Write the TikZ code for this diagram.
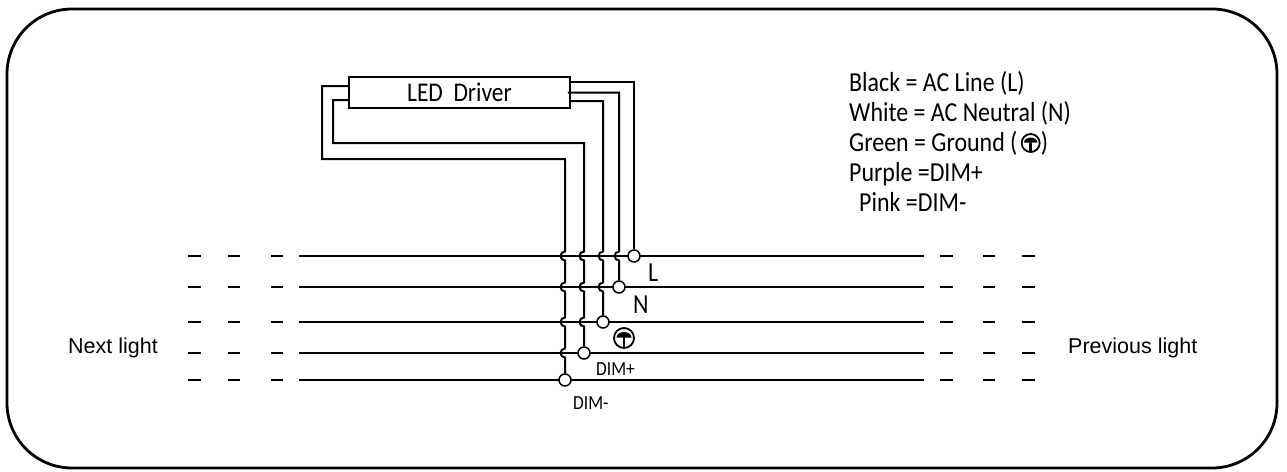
\documentclass[tikz,border=0pt]{standalone}
\usepackage{fontspec}
\setmainfont{Carlito}
\newfontfamily\arialfont{Liberation Sans}
\usepackage{graphicx}
\usetikzlibrary{positioning}

\newcommand{\narrow}[1]{\scalebox{0.87}[1]{#1}}
\newcommand{\hop}[2]{-- (#1,#2-4.5) arc[start angle=90,end angle=270,radius=4.5pt]}

\tikzset{
  gndsym/.pic={
    \draw[line width=1.8pt] (0pt,0pt) circle[radius=10pt];
    \fill (-7.5pt,0.5pt) arc[start angle=180,end angle=0,x radius=7.5pt,y radius=5.5pt] -- cycle;
    \draw[line width=2.8pt] (0pt,1pt) -- (0pt,-9.5pt);
  }
}

\begin{document}
\begin{tikzpicture}[x=1pt,y=-1pt,
    wire/.style={line width=2pt},
    term/.style={circle, draw, line width=1.5pt, fill=white, inner sep=0pt, minimum size=12pt},
    lgtext/.style={anchor=base west, inner sep=0pt, font=\fontsize{27.5}{30}\selectfont},
    tagtext/.style={anchor=base west, inner sep=0pt, font=\fontsize{20}{22}\selectfont},
    sidetext/.style={anchor=base west, inner sep=0pt, font=\arialfont\fontsize{21.5}{24}\selectfont}]

    \useasboundingbox (0,0) rectangle (1287,471);
    \draw[line width=2.8pt, rounded corners=65pt] (7,9) rectangle (1277,468);

    % bus lines
    \foreach \y in {256,287,322,353,380} {
        \draw[wire] (299,\y) -- (924,\y);
        \foreach \a/\b in {188/201,228/240,271/283,940/953,983/995,1022/1035}
            \draw[wire] (\a,\y) -- (\b,\y);
    }

    % terminals
    \node[term] (tL) at (634,256) {};
    \node[term] (tN) at (619,287) {};
    \node[term] (tG) at (603,322) {};
    \node[term] (tP) at (584,353) {};
    \node[term] (tM) at (565,380) {};

    % driver
    \node[draw, line width=1.8pt, minimum width=221pt, minimum height=31pt, inner sep=0pt,
          font=\fontsize{27}{30}\selectfont] (drv) at (459.5,92.5) {\narrow{LED\ \ Driver}};

    % wires
    \draw[wire] (drv.east |- 0,82) -| (tL);
    \draw[wire] ([xshift=-3pt]drv.east) -- (619,92.5) \hop{619}{256} -- (tN);
    \draw[wire] (drv.east |- 0,101) -- (603,101) \hop{603}{256} \hop{603}{287} -- (tG);
    \draw[wire] (drv.west |- 0,100) -| (333,143) -- (584,143)
        \hop{584}{256} \hop{584}{287} \hop{584}{322} -- (tP);
    \draw[wire] (drv.west |- 0,86) -| (322,159) -- (565,159)
        \hop{565}{256} \hop{565}{287} \hop{565}{322} \hop{565}{353} -- (tM);

    % labels
    \node[lgtext] (lblL) at (648,281) {\narrow{L}};
    \node[lgtext] (lblN) at (633,313) {\narrow{N}};
    \pic (gndG) at (624,338) {gndsym};
    \node[tagtext] (lblP) at (596,375) {\narrow{DIM+}};
    \node[tagtext] (lblM) at (573,409) {\narrow{DIM-}};

    \node[sidetext] (next) at (68,353) {Next light};
    \node[sidetext] (prev) at (1068,353) {Previous light};

    % legend
    \node[lgtext] (lgL) at (849,91) {\narrow{Black = AC Line (L)}};
    \node[lgtext] (lgN) at (849,121) {\narrow{White = AC Neutral (N)}};
    \node[lgtext] (lgG) at (849,151) {\narrow{Green = Ground (}};
    \pic[scale=0.9] (lgsym) at ([xshift=13pt,yshift=8pt]lgG.base east) {gndsym};
    \node[lgtext] (lgGr) at ([xshift=23pt]lgG.base east) {\narrow{)}};
    \node[lgtext] (lgP) at (849,181) {\narrow{Purple =DIM+}};
    \node[lgtext] (lgM) at (859,211) {\narrow{Pink =DIM-}};
\end{tikzpicture}
\end{document}
